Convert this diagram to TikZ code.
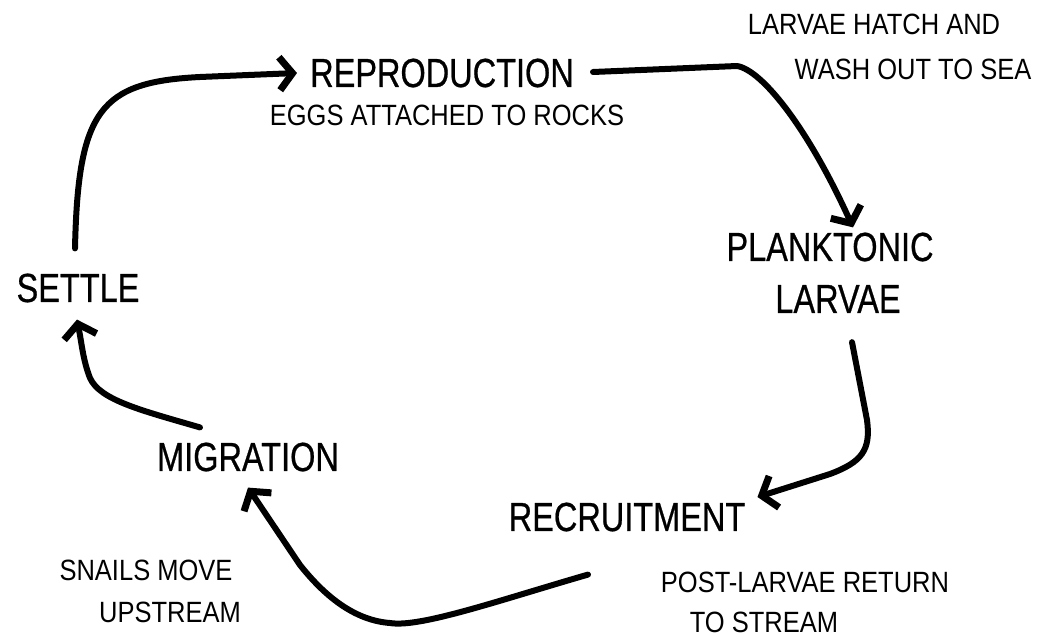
\documentclass[tikz,border=0pt]{standalone}
\usepackage{fontspec}
\usepackage{graphicx}
\setmainfont{Liberation Sans}
\newfontfamily\heavyfont[FakeBold=0.7]{Liberation Sans}
\newcommand{\bigtxt}[1]{\scalebox{1}[1.25]{#1}}
\newcommand{\smalltxt}[1]{\scalebox{1}[1.15]{#1}}
\usetikzlibrary{arrows.meta,calc}
\tikzset{
  big/.style={inner sep=0pt, font=\heavyfont\fontsize{32.5}{34}\selectfont},
  small/.style={inner sep=0pt, font=\fontsize{25.5}{27}\selectfont},
  flow/.style={line width=6pt, line cap=round, line join=round,
    -{Straight Barb[length=13pt,width=33pt,line width=1pt 1]}}
}
\begin{document}
\begin{tikzpicture}[x=1pt,y=-1pt]
\useasboundingbox (0,0) rectangle (1043,639);
\node[big] (repro) at (442,73) {\bigtxt{REPRODUCTION}};
\node[small] (eggs) at (447,115.6) {\smalltxt{EGGS ATTACHED TO ROCKS}};
\node[small] (hatch1) at (874,24.6) {\smalltxt{LARVAE HATCH AND}};
\node[small] (hatch2) at (913,69.6) {\smalltxt{WASH OUT TO SEA}};
\node[big] (plank) at (830,247) {\bigtxt{PLANKTONIC}};
\node[big] (larvae) at (838,299) {\bigtxt{LARVAE}};
\node[big] (settle) at (78,288) {\bigtxt{SETTLE}};
\node[big] (migr) at (248,457) {\bigtxt{MIGRATION}};
\node[big] (recr) at (627,517) {\bigtxt{RECRUITMENT}};
\node[small] (post1) at (805,582.6) {\smalltxt{POST-LARVAE RETURN}};
\node[small] (post2) at (764,622.6) {\smalltxt{TO STREAM}};
\node[small] (snail1) at (146,570.6) {\smalltxt{SNAILS MOVE}};
\node[small] (snail2) at (170,612.6) {\smalltxt{UPSTREAM}};

\draw[flow] ([shift={(-3,-25)}]settle.north) .. controls (78,110) and (100,82) .. (200,77) -- ([shift={(-13,0)}]repro.west);
\draw[flow] ([shift={(19,-1)}]repro.east) -- (737,66) .. controls (762,70) and (808,128) .. ([shift={(23,-5)}]plank.north);
\draw[flow] ([shift={(14,29)}]larvae.south) -- (867,420) .. controls (871,450) and (862,462) .. (830,474) -- ([shift={(12,-20)}]recr.east);
\draw[flow] ([shift={(-39,43)}]recr.south) .. controls (500,600) and (420,628) .. (390,623) .. controls (350,620) and (320,590) .. (300,565) -- ([shift={(0,16)}]migr.south);
\draw[flow] ([shift={(-48,-15)}]migr.north) .. controls (140,410) and (100,400) .. (90,378) .. controls (83,360) and (82,345) .. ([shift={(-1,17)}]settle.south);
\end{tikzpicture}
\end{document}
